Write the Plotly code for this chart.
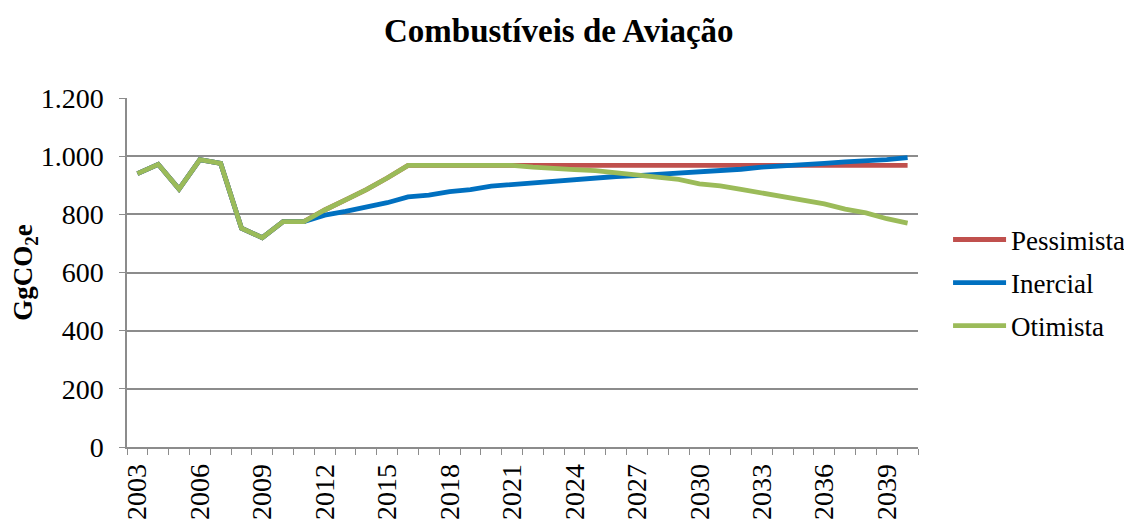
import plotly.graph_objects as go

# Anos e cenários (GgCO2e)
anos = list(range(2003, 2041))

pessimista = [940, 972, 887, 988, 975, 752, 720, 775, 775, 815, 850, 885, 925, 968,
              968, 968, 968, 968, 968, 968, 968, 968, 968, 968, 968, 968, 968, 968,
              968, 968, 968, 968, 968, 968, 968, 968, 968, 968]

inercial = [940, 972, 887, 988, 975, 752, 720, 775, 775, 797, 810, 825, 840, 860,
            866, 878, 885, 897, 903, 910, 912, 918, 925, 930, 933, 937, 942, 945,
            950, 955, 962, 965, 970, 975, 980, 982, 988, 995]

otimista = [940, 972, 887, 988, 975, 752, 720, 775, 775, 815, 850, 885, 925, 968,
            968, 968, 968, 968, 968, 962, 956, 954, 950, 943, 937, 928, 920, 905,
            898, 886, 874, 862, 849, 836, 818, 805, 785, 770]

label_anos = anos[::3]

FONT = "Liberation Serif"
GRID = "#8c8c8c"

fig = go.Figure()
series = [
    ("Pessimista", pessimista, "#C0504D"),
    ("Inercial", inercial, "#0070C0"),
    ("Otimista", otimista, "#9BBB59"),
]
for name, vals, color in series:
    fig.add_trace(go.Scatter(
        x=anos, y=vals, name=name, mode="lines",
        line=dict(color=color, width=4.8),
        legendgroup=name,
    ))

# a página tem 8px de margem no body, por isso a figura é um pouco menor
# autoexpand desligado: a legenda não pode encolher a área do gráfico
fig.update_layout(
    width=1124, height=513,
    paper_bgcolor="white", plot_bgcolor="white",
    separators=",.",
    font=dict(family=FONT, size=28, color="black"),
    margin=dict(l=119, r=214, t=90, b=74, autoexpand=False),
    title=dict(text="<b>Combustíveis de Aviação</b>", x=0.49, xanchor="center",
               y=0.957, yanchor="middle", font=dict(family=FONT, size=33)),
    legend=dict(x=1.038, y=0.47, xanchor="left", yanchor="middle",
                font=dict(family=FONT, size=27), tracegroupgap=5, itemwidth=53,
                bgcolor="rgba(0,0,0,0)"),
)

fig.update_xaxes(
    range=[2002.5, 2040.5], automargin=False,
    tickmode="array", tickvals=label_anos, ticktext=[str(a) for a in label_anos],
    tickangle=-90, ticks="", showgrid=False, ticklabelstandoff=4,
    showline=True, linecolor=GRID, linewidth=1.5,
    minor=dict(ticks="outside", tick0=2002.5, dtick=1, ticklen=6,
               tickcolor=GRID, showgrid=False),
    tickfont=dict(family=FONT, size=28),
    zeroline=False,
)

fig.update_yaxes(
    range=[0, 1200], dtick=200, tickformat=",d", automargin=False,
    showgrid=True, gridcolor=GRID, gridwidth=1.5,
    showline=True, linecolor=GRID, linewidth=1.5,
    ticks="outside", ticklen=6, tickcolor=GRID, ticklabelstandoff=10,
    tickfont=dict(family=FONT, size=28),
    zeroline=False,
    title=dict(text="<b>GgCO<sub>2</sub>e</b>", font=dict(family=FONT, size=27), standoff=0),
)

fig.write_html("out.html")
